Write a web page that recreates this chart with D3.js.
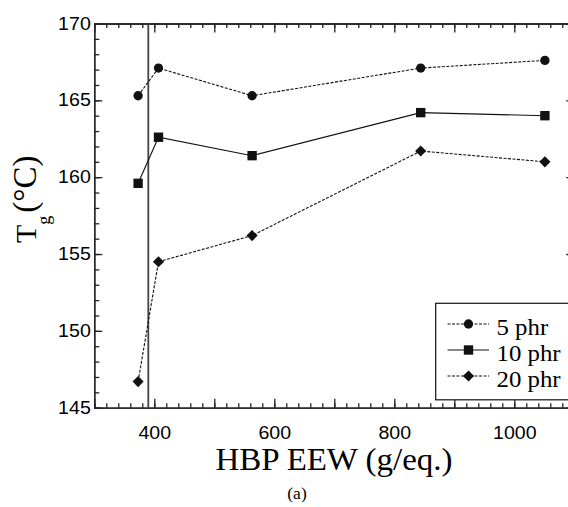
<!DOCTYPE html>
<html>
<head>
<meta charset="utf-8">
<script src="https://cdn.jsdelivr.net/npm/d3@7"></script>
<style>
  body { margin: 0; background: #fff; }
  svg { display: block; }
</style>
</head>
<body>
<svg width="568" height="507"></svg>
<script>
var width = 568, height = 507;

// data
var eew = [373, 407, 563, 844, 1051];
var tg5 = [165.3, 167.1, 165.3, 167.1, 167.6];
var tg10 = [159.6, 162.6, 161.4, 164.2, 164.0];
var tg20 = [146.7, 154.5, 156.2, 161.7, 161.0];
var seriesNames = ['5 phr', '10 phr', '20 phr'];
var xTickLabels = [400, 600, 800, 1000];
var yTickLabels = [145, 150, 155, 160, 165, 170];
var refLine = 390;

var svg = d3.select('svg');

var x = d3.scaleLinear().domain([300, 1100]).range([94.3, 574.3]);
var y = d3.scaleLinear().domain([145, 170]).range([407.7, 23.5]);

var axisColor = '#222';
var sans = '"Liberation Sans", Arial, Helvetica, sans-serif';
var serif = '"Liberation Serif", "Times New Roman", Times, serif';

// minor ticks
var xMinor = d3.range(300, 1101, 20);
var yMinor = d3.range(145, 170.1, 1);

function styleAxis(g) {
  g.selectAll('path, line').attr('stroke', axisColor).attr('stroke-width', 1.3);
  g.selectAll('text').attr('fill', '#000')
    .style('font-family', sans)
    .style('font-size', '17.5px');
}

// the source picture is a bit stretched sideways
function stretchLabels(g) {
  g.selectAll('text').attr('transform', 'scale(1.12,1)');
}

// bottom axis
svg.append('g').attr('transform', 'translate(0,' + y(145) + ')')
  .call(d3.axisBottom(x).tickValues(xMinor).tickSizeInner(-4.5).tickSizeOuter(0).tickFormat(''))
  .call(styleAxis);
svg.append('g').attr('transform', 'translate(0,' + y(145) + ')')
  .call(d3.axisBottom(x).tickValues(d3.range(300, 1101, 100)).tickSizeInner(-9).tickSizeOuter(0)
    .tickPadding(19)
    .tickFormat(function(d) { return xTickLabels.indexOf(d) >= 0 ? d : ''; }))
  .call(styleAxis)
  .call(stretchLabels);

// top axis
svg.append('g').attr('transform', 'translate(0,' + y(170) + ')')
  .call(d3.axisTop(x).tickValues(xMinor).tickSizeInner(-4.5).tickSizeOuter(0).tickFormat(''))
  .call(styleAxis);
svg.append('g').attr('transform', 'translate(0,' + y(170) + ')')
  .call(d3.axisTop(x).tickValues(d3.range(300, 1101, 100)).tickSizeInner(-9).tickSizeOuter(0).tickFormat(''))
  .call(styleAxis);

// left axis
svg.append('g').attr('transform', 'translate(' + x(300) + ',0)')
  .call(d3.axisLeft(y).tickValues(yMinor).tickSizeInner(-5).tickSizeOuter(0).tickFormat(''))
  .call(styleAxis);
svg.append('g').attr('transform', 'translate(' + x(300) + ',0)')
  .call(d3.axisLeft(y).tickValues(yTickLabels).tickSizeInner(-8).tickSizeOuter(0).tickPadding(4)
    .tickFormat(d3.format('d')))
  .call(styleAxis)
  .call(function(g) {
    g.selectAll('text').attr('x', 0).attr('transform', 'translate(-3.5,0) scale(1.12,1)');
  });

// right axis
svg.append('g').attr('transform', 'translate(' + x(1100) + ',0)')
  .call(d3.axisRight(y).tickValues(yMinor).tickSizeInner(-5).tickSizeOuter(0).tickFormat(''))
  .call(styleAxis);
svg.append('g').attr('transform', 'translate(' + x(1100) + ',0)')
  .call(d3.axisRight(y).tickValues(yTickLabels).tickSizeInner(-8).tickSizeOuter(0).tickFormat(''))
  .call(styleAxis);

// vertical reference line
svg.append('line')
  .attr('x1', x(refLine)).attr('x2', x(refLine))
  .attr('y1', y(170)).attr('y2', y(145))
  .attr('stroke', '#444').attr('stroke-width', 1.8);

var series = [
  { name: seriesNames[0], values: tg5, symbol: d3.symbolCircle, size: 68, rot: 0, dash: '3,1.5' },
  { name: seriesNames[1], values: tg10, symbol: d3.symbolSquare, size: 88, rot: 0, dash: null },
  { name: seriesNames[2], values: tg20, symbol: d3.symbolSquare, size: 62, rot: 45, dash: '3,1.5' }
];

var line = d3.line()
  .x(function(d) { return x(d[0]); })
  .y(function(d) { return y(d[1]); });

series.forEach(function(s) {
  var pts = eew.map(function(e, i) { return [e, s.values[i]]; });
  svg.append('path')
    .datum(pts)
    .attr('d', line)
    .attr('fill', 'none')
    .attr('stroke', '#111')
    .attr('stroke-width', 1.1)
    .attr('stroke-dasharray', s.dash);
  svg.selectAll(null)
    .data(pts)
    .enter().append('path')
    .attr('transform', function(d) {
      return 'translate(' + x(d[0]) + ',' + y(d[1]) + ') rotate(' + s.rot + ')';
    })
    .attr('d', d3.symbol().type(s.symbol).size(s.size))
    .attr('fill', '#111');
});

// legend
var lg = svg.append('g');
lg.append('rect')
  .attr('x', 435.7).attr('y', 303.3)
  .attr('width', 150).attr('height', 96.5)
  .attr('fill', '#fff').attr('stroke', axisColor).attr('stroke-width', 1.3);

series.forEach(function(s, i) {
  var cy = 324 + i * 26;
  lg.append('line')
    .attr('x1', 447.5).attr('x2', 489).attr('y1', cy).attr('y2', cy)
    .attr('stroke', '#111').attr('stroke-width', 1.1)
    .attr('stroke-dasharray', s.dash);
  lg.append('path')
    .attr('transform', 'translate(468.5,' + cy + ') rotate(' + s.rot + ')')
    .attr('d', d3.symbol().type(s.symbol).size(s.size))
    .attr('fill', '#111');
  lg.append('text')
    .attr('transform', 'translate(496.5,' + (cy + 10.5) + ') scale(1.08,1)')
    .style('font-family', serif)
    .style('font-size', '23px')
    .attr('fill', '#000')
    .text(s.name);
});

// axis titles
svg.append('text')
  .attr('transform', 'translate(334,470) scale(1.08,1)')
  .attr('text-anchor', 'middle')
  .style('font-family', serif)
  .style('font-size', '30.5px')
  .attr('fill', '#000')
  .text('HBP EEW (g/eq.)');

var yt = svg.append('text')
  .attr('transform', 'translate(36,243) rotate(-90)')
  .style('font-family', serif)
  .style('font-size', '30px')
  .attr('fill', '#000');
yt.append('tspan').text('T');
yt.append('tspan').attr('dy', 14).style('font-size', '18px').text('g');
yt.append('tspan').attr('dy', -14).attr('dx', 3).style('font-size', '33px').text('(\u00b0C)');

svg.append('text')
  .attr('transform', 'translate(297,499) scale(1.06,1)')
  .attr('text-anchor', 'middle')
  .style('font-family', serif)
  .style('font-size', '16.5px')
  .attr('fill', '#000')
  .text('(a)');
</script>
</body>
</html>
